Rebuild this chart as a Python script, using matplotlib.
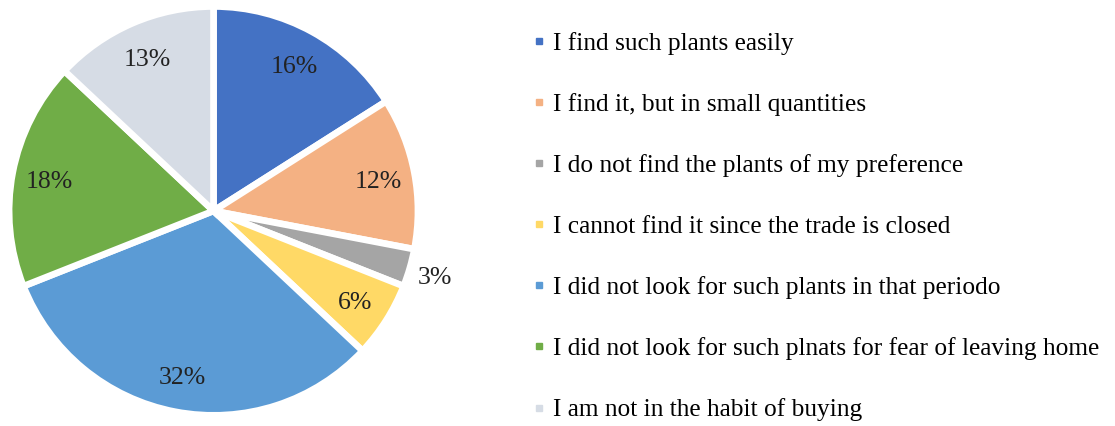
import numpy as np
import matplotlib as mpl
mpl.use('Agg')
import matplotlib.pyplot as plt
from matplotlib.lines import Line2D

plt.rc('font', family='Liberation Serif')

# data
labels = ['I find such plants easily',
          'I find it, but in small quantities',
          'I do not find the plants of my preference',
          'I cannot find it since the trade is closed',
          'I did not look for such plants in that periodo',
          'I did not look for such plnats for fear of leaving home',
          'I am not in the habit of buying']
values = [16, 12, 3, 6, 32, 18, 13]
colors = ['#4472C4', '#F4B183', '#A5A5A5', '#FFD966',
          '#5B9BD5', '#70AD47', '#D6DCE5']

fig = plt.figure(figsize=(11.15, 4.26), dpi=100)
ax = fig.add_axes([0.009, 0.025, 0.365, 0.955])

wedges, texts, autotexts = ax.pie(
    values, colors=colors, startangle=90, counterclock=False,
    autopct='%1.0f%%', pctdistance=0.82,
    wedgeprops=dict(edgecolor='white', linewidth=4.8),
    textprops=dict(fontsize=18.5, color='#222222'))

for w, t in zip(wedges, autotexts):
    t.set_va('center_baseline')
    # small slice label goes outside
    if w.theta2 - w.theta1 < 15:
        ang = np.deg2rad((w.theta1 + w.theta2) / 2)
        t.set_position((1.13 * np.cos(ang), 1.13 * np.sin(ang)))

ax.set_xlim(-0.995, 0.995)
ax.set_ylim(-1.0, 0.99)
ax.set_aspect('equal')

handles = [Line2D([], [], marker='s', linestyle='', markersize=5,
                  color=w.get_facecolor()) for w in wedges]
fig.legend(handles, labels, loc='upper left', bbox_to_anchor=(0.477, 0.925),
           frameon=False, fontsize=18.3, labelspacing=1.5, handlelength=0.6,
           handletextpad=0.22, borderaxespad=0, borderpad=0)

fig.savefig('out.png', dpi=100)
